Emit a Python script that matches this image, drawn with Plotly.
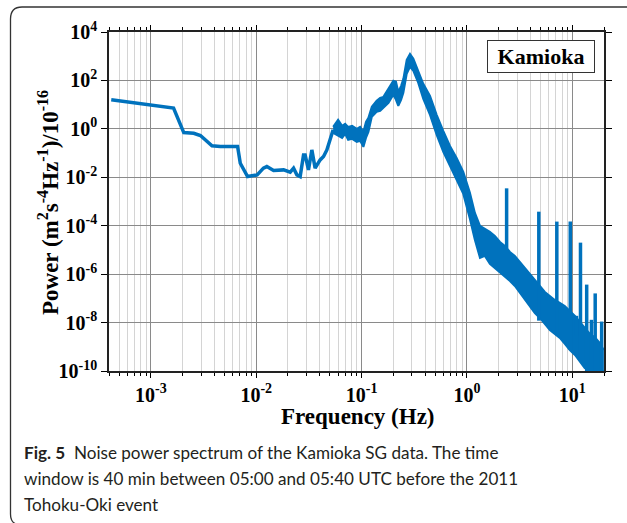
import plotly.graph_objects as go

# ---------------- data ----------------
# smooth low-frequency part of the spectrum (Hz, power)
low_freq = [4.2e-4, 1.64e-3, 2.05e-3, 2.55e-3, 2.95e-3, 3.8e-3, 4.56e-3, 6.65e-3,
            7.05e-3, 8.27e-3, 1.02e-2, 1.17e-2, 1.26e-2, 1.46e-2, 1.82e-2, 2.1e-2,
            2.26e-2, 2.43e-2, 2.61e-2, 2.81e-2, 2.91e-2, 3.13e-2, 3.37e-2, 3.62e-2,
            4.04e-2, 4.35e-2, 4.68e-2, 5.03e-2, 5.37e-2]
low_power = [15.8, 7.2, 0.70, 0.66, 0.53, 0.20, 0.186, 0.186,
             0.038, 0.0107, 0.0126, 0.0238, 0.0277, 0.0189, 0.0202, 0.0163,
             0.0238, 0.0126, 0.0107, 0.084, 0.084, 0.0202, 0.135, 0.0238,
             0.052, 0.072, 0.135, 0.35, 0.91]

# noisy part: upper and lower envelope of the scatter band
band_freq = [0.0537, 0.0598, 0.0653, 0.0698, 0.0745, 0.0813, 0.0900, 0.0968, 0.104, 0.110,
             0.116, 0.125, 0.139, 0.150, 0.161, 0.180, 0.200, 0.212, 0.223, 0.237,
             0.249, 0.268, 0.288, 0.310, 0.345, 0.385, 0.446, 0.516, 0.596, 0.690,
             0.798, 0.923, 1.067, 1.19, 1.33, 1.48, 1.65, 1.84, 2.06, 2.29,
             2.56, 2.85, 3.18, 3.55, 3.95, 4.41, 4.92, 5.49, 6.12, 6.82,
             7.61, 8.49, 9.47, 10.6, 11.8, 13.1, 14.7, 16.3, 18.2, 19.9]
band_upper = [1.21, 2.35, 1.33, 1.61, 1.21, 1.33, 1.0, 1.21, 0.752, 1.95,
              2.85, 8.11, 14.4, 19.1, 21.0, 49.4, 96.2, 87.5, 33.8, 59.8,
              116, 710, 1256, 781, 249, 72.4, 23.1, 3.79, 0.827, 0.198,
              0.0633, 0.0167, 2.27e-3, 3.38e-4, 9.82e-5, 7.38e-5, 5.55e-5, 3.79e-5, 2.14e-5, 1.46e-5,
              8.26e-6, 5.65e-6, 3.19e-6, 1.80e-6, 1.02e-6, 5.24e-7, 2.96e-7, 1.84e-7, 1.26e-7, 8.59e-8,
              6.45e-8, 4.85e-8, 3.01e-8, 1.87e-8, 1.06e-8, 5.98e-9, 3.38e-9, 2.54e-9, 1.44e-9, 7.38e-10]
band_lower = [0.684, 0.514, 0.425, 0.621, 0.351, 0.386, 0.290, 0.319, 0.180, 0.425,
              0.752, 3.13, 5.04, 5.55, 7.38, 11.9, 25.4, 15.8, 8.91, 15.8,
              30.7, 187, 365, 249, 79.6, 17.4, 3.79, 0.565, 0.112, 0.0296,
              7.81e-3, 2.06e-3, 1.91e-4, 2.59e-5, 4.67e-6, 5.65e-6, 2.64e-6, 1.80e-6, 1.12e-6, 8.43e-7,
              5.24e-7, 3.25e-7, 1.67e-7, 8.59e-8, 4.85e-8, 2.49e-8, 1.55e-8, 8.75e-9, 4.94e-9, 3.38e-9,
              2.31e-9, 1.31e-9, 7.38e-10, 4.58e-10, 2.59e-10, 1.33e-10, 1e-10, 1e-10, 1e-10, 1e-10]

# narrow spectral peaks (Hz, top, base)
spike_freq = [2.38, 4.81, 7.13, 9.57, 10.96, 11.96, 13.7, 15.2, 16.5, 19.0]
spike_top = [3.5e-3, 3.8e-4, 1.48e-4, 1.48e-4, 1.9e-8, 2.0e-5, 3.7e-7, 1.3e-8, 1.6e-7, 1.1e-8]
spike_base = [7.6e-7, 1.2e-8, 3e-9, 7.4e-10, 3e-9, 2.8e-10, 1e-10, 1e-10, 1e-10, 1e-10]

x_tick_exp = [-3, -2, -1, 0, 1]
y_tick_exp = [-10, -8, -6, -4, -2, 0, 2, 4]

x_title = "Frequency (Hz)"
y_title = "Power (m<sup>2</sup>s<sup>-4</sup>Hz<sup>-1</sup>)/10<sup>-16</sup>"
label = "Kamioka"
caption_lines = [
    "<b>Fig. 5</b>\u00a0\u00a0Noise power spectrum of the Kamioka SG data. The time",
    "window is 40 min between 05:00 and 05:40 UTC before the 2011",
    "Tohoku-Oki event",
]

# ---------------- styling ----------------
BLUE = "#0072BD"
SERIF = "Liberation Serif"
W, H = 627, 523
L, R, T, B = 109, 604, 32, 371


def px(x):
    return (x - L) / (R - L)


def py(y):
    return (B - y) / (B - T)


fig = go.Figure()

fig.add_trace(go.Scatter(x=band_freq, y=band_upper, mode="lines",
                         line=dict(color=BLUE, width=2), hoverinfo="skip"))
fig.add_trace(go.Scatter(x=band_freq, y=band_lower, mode="lines", fill="tonexty",
                         fillcolor=BLUE, line=dict(color=BLUE, width=2), hoverinfo="skip"))
fig.add_trace(go.Scatter(x=low_freq, y=low_power, mode="lines",
                         line=dict(color=BLUE, width=3.5)))

sx, sy = [], []
for f, top, base in zip(spike_freq, spike_top, spike_base):
    sx += [f, f, None]
    sy += [base, top, None]
fig.add_trace(go.Scatter(x=sx, y=sy, mode="lines", line=dict(color=BLUE, width=3.5)))

minor_x = [m * 10.0 ** e for e in range(-4, 2) for m in range(2, 10)]

fig.update_xaxes(
    type="log", range=[-3.398, 1.301],
    tickmode="array",
    tickvals=[10.0 ** e for e in x_tick_exp],
    ticktext=[f"<b>10<sup>{e}</sup></b>" for e in x_tick_exp],
    tickfont=dict(family=SERIF, size=20, color="black"),
    ticks="outside", ticklen=5, tickwidth=1, tickcolor="black",
    showgrid=True, gridcolor="#8a8a8a", gridwidth=1,
    showline=True, linecolor="#222", linewidth=1.5, mirror="allticks",
    minor=dict(tickmode="array", tickvals=minor_x, ticks="outside", ticklen=3,
               tickcolor="black", showgrid=True, gridcolor="#d4d4d4", gridwidth=1),
    zeroline=False,
)
fig.update_yaxes(
    type="log", range=[-10, 4],
    tickmode="array",
    tickvals=[10.0 ** e for e in y_tick_exp],
    ticktext=[f"<b>10<sup>{e}</sup></b>" for e in y_tick_exp],
    tickfont=dict(family=SERIF, size=20, color="black"),
    ticks="outside", ticklen=6, tickwidth=1, tickcolor="black",
    showgrid=True, gridcolor="#8a8a8a", gridwidth=1,
    showline=True, linecolor="#222", linewidth=1.5, mirror="allticks",
    zeroline=False,
)

annotations = [
    dict(text=f"<b>{x_title}</b>", x=px(358), y=py(417), xref="paper", yref="paper",
         xanchor="center", yanchor="middle",
         showarrow=False, font=dict(family=SERIF, size=23, color="black")),
    dict(text=f"<b>{y_title}</b>", x=px(48), y=py(203), xref="paper", yref="paper",
         xanchor="center", yanchor="middle",
         showarrow=False, textangle=-90, font=dict(family=SERIF, size=23, color="black")),
    dict(text=f"<b>{label}</b>", x=px(541), y=py(56), xref="paper", yref="paper",
         xanchor="center", yanchor="middle",
         showarrow=False, font=dict(family=SERIF, size=22, color="black"),
         bordercolor="#333", borderwidth=1, borderpad=3, bgcolor="white", width=100),
]
for i, line in enumerate(caption_lines):
    annotations.append(dict(text=line, x=px(22), y=py(452 + 26 * i), xref="paper", yref="paper",
                            xanchor="left", yanchor="middle", showarrow=False,
                            font=dict(family="Lato", size=17.1, color="#231f20")))

shapes = [
    dict(type="path", xref="paper", yref="paper",
         path=(f"M {px(628)},{py(7)} L {px(22)},{py(7)} Q {px(10.5)},{py(7)} {px(10.5)},{py(19)} "
               f"L {px(10.5)},{py(514)} Q {px(10.5)},{py(522)} {px(16)},{py(524)}"),
         line=dict(color="#333", width=1.3)),
]

fig.update_layout(
    width=W, height=H,
    margin=dict(l=L, r=W - R, t=T, b=H - B),
    plot_bgcolor="white", paper_bgcolor="white",
    showlegend=False,
    annotations=annotations, shapes=shapes,
)

fig.write_html("out.html")
